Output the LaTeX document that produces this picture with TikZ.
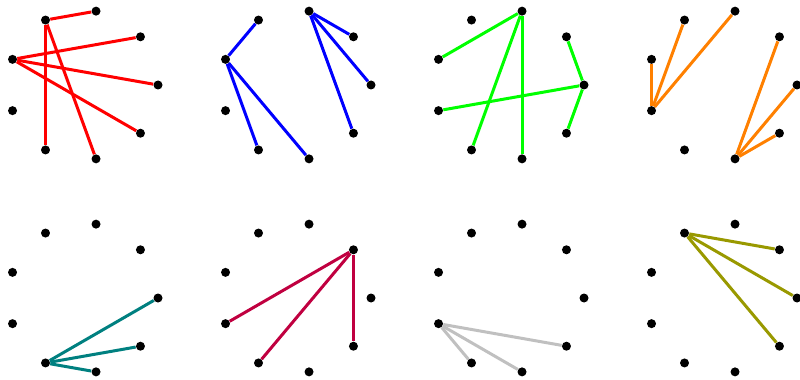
\documentclass[tikz,border=0pt]{standalone}
\usepackage{xcolor}
\usepackage{tikz}

\definecolor{edgered}{HTML}{FF0000}
\definecolor{edgeblue}{HTML}{0000FF}
\definecolor{edgegreen}{HTML}{00FF00}
\definecolor{edgeorange}{HTML}{FF8000}
\definecolor{edgeteal}{HTML}{008080}
\definecolor{edgecrimson}{HTML}{C00040}
\definecolor{edgesilver}{HTML}{C0C0C0}
\definecolor{edgeolive}{HTML}{999900}

\begin{document}
\begin{tikzpicture}[
    x=0.02cm, y=0.02cm,
    dot/.style={circle, fill=black, inner sep=0pt, minimum size=0.18cm},
    edge/.style={line width=0.06cm}
]
    \useasboundingbox (0,0) rectangle (800,379);

    % Nine points on a circle in every panel
    \foreach \p/\cx/\cy in {a/83/294, b/296/294, c/509/294, d/722/294,
                            e/83/81, f/296/81, g/509/81, h/722/81} {
        \foreach \k in {0,...,8} {
            \node[dot] (\p\k) at ([shift={(\cx,\cy)}]\k*40:75) {};
        }
    }

    % First row
    \draw[edge, edgered] (a3) -- (a2);
    \draw[edge, edgered] (a3) -- (a6);
    \draw[edge, edgered] (a3) -- (a7);
    \draw[edge, edgered] (a4) -- (a1);
    \draw[edge, edgered] (a4) -- (a0);
    \draw[edge, edgered] (a4) -- (a8);

    \draw[edge, edgeblue] (b4) -- (b3);
    \draw[edge, edgeblue] (b4) -- (b6);
    \draw[edge, edgeblue] (b4) -- (b7);
    \draw[edge, edgeblue] (b2) -- (b1);
    \draw[edge, edgeblue] (b2) -- (b0);
    \draw[edge, edgeblue] (b2) -- (b8);

    \draw[edge, edgegreen] (c2) -- (c4);
    \draw[edge, edgegreen] (c2) -- (c6);
    \draw[edge, edgegreen] (c2) -- (c7);
    \draw[edge, edgegreen] (c0) -- (c1);
    \draw[edge, edgegreen] (c0) -- (c8);
    \draw[edge, edgegreen] (c0) -- (c5);

    \draw[edge, edgeorange] (d5) -- (d4);
    \draw[edge, edgeorange] (d5) -- (d3);
    \draw[edge, edgeorange] (d5) -- (d2);
    \draw[edge, edgeorange] (d7) -- (d1);
    \draw[edge, edgeorange] (d7) -- (d0);
    \draw[edge, edgeorange] (d7) -- (d8);

    % Second row
    \draw[edge, edgeteal] (e6) -- (e7);
    \draw[edge, edgeteal] (e6) -- (e8);
    \draw[edge, edgeteal] (e6) -- (e0);

    \draw[edge, edgecrimson] (f1) -- (f5);
    \draw[edge, edgecrimson] (f1) -- (f6);
    \draw[edge, edgecrimson] (f1) -- (f8);

    \draw[edge, edgesilver] (g5) -- (g6);
    \draw[edge, edgesilver] (g5) -- (g7);
    \draw[edge, edgesilver] (g5) -- (g8);

    \draw[edge, edgeolive] (h3) -- (h1);
    \draw[edge, edgeolive] (h3) -- (h0);
    \draw[edge, edgeolive] (h3) -- (h8);
\end{tikzpicture}
\end{document}
